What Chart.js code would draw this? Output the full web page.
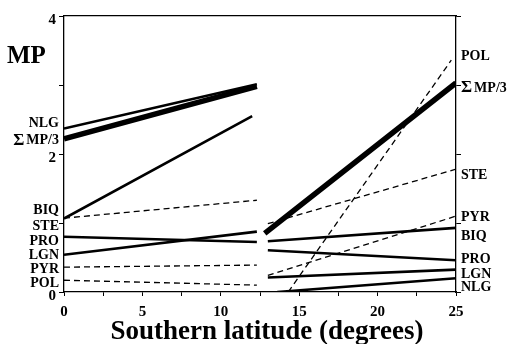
<!DOCTYPE html>
<html>
<head>
<meta charset="utf-8">
<script src="https://cdn.jsdelivr.net/npm/chart.js@4/dist/chart.umd.min.js"></script>
<style>
  html, body { margin: 0; padding: 0; background: #fff; }
  #wrap { width: 513px; height: 344px; }
</style>
</head>
<body>
<div id="wrap"><canvas id="chart" width="513" height="344"></canvas></div>
<script>
// series, in the order of the left-hand labels
const seriesNames = [`NLG`, `ΣMP/3`, `BIQ`, `STE`, `PRO`, `LGN`, `PYR`, `POL`];

// left block (0 .. ~12 degrees)
const leftStartX = [0, 0, 0, 0, 0, 0, 0, 0];
const leftStartY = [2.37, 2.22, 1.065, 1.07, 0.80, 0.54, 0.36, 0.17];
const leftEndX = [12.3, 12.3, 12.0, 12.3, 12.3, 12.3, 12.3, 12.3];
const leftEndY = [3.01, 2.98, 2.55, 1.33, 0.725, 0.875, 0.39, 0.10];

// right block (~13 .. 25 degrees)
const rightStartX = [13.6, 12.8, 13.0, 13.0, 13.0, 13.0, 13.0, 14.3];
const rightStartY = [0.0, 0.85, 0.735, 0.99, 0.605, 0.21, 0.24, 0.0];
const rightEndX = [25, 25, 25, 25, 25, 25, 25, 24.7];
const rightEndY = [0.20, 3.03, 0.93, 1.78, 0.46, 0.325, 1.10, 3.36];

// side labels
const leftLabels = [`NLG`, `ΣMP/3`, `BIQ`, `STE`, `PRO`, `LGN`, `PYR`, `POL`];
const leftLabelY = [2.44, 2.20, 1.185, 0.953, 0.74, 0.528, 0.33, 0.13];
const rightLabels = [`POL`, `ΣMP/3`, `STE`, `PYR`, `BIQ`, `PRO`, `LGN`, `NLG`];
const rightLabelY = [3.41, 2.955, 1.69, 1.08, 0.80, 0.47, 0.257, 0.073];

const xTickLabels = [0, 5, 10, 15, 20, 25];
const yTickLabels = [0, 2, 4];
const xTitle = `Southern latitude (degrees)`;
const yTitle = `MP`;

// styles
const lineWidths = [2.6, 5.5, 2.6, 1.3, 2.6, 2.6, 1.3, 1.3];
const lineDashes = [[], [], [], [6, 4], [], [], [6, 4], [6, 4]];

const serif = `"Liberation Serif", "DejaVu Serif", serif`;

const datasets = seriesNames.map((name, i) => ({
    label: name,
    data: [
        {x: leftStartX[i], y: leftStartY[i]},
        {x: leftEndX[i], y: leftEndY[i]},
        {x: 12.6, y: null},
        {x: rightStartX[i], y: rightStartY[i]},
        {x: rightEndX[i], y: rightEndY[i]}
    ],
    borderColor: `#000`,
    borderWidth: lineWidths[i],
    borderDash: lineDashes[i],
    borderCapStyle: `butt`,
    pointRadius: 0,
    spanGaps: false,
    tension: 0
}));

function drawLabel(ctx, text, x, y, align) {
    const small = `bold 14px ${serif}`;
    const big = `bold 17px ${serif}`;
    let parts = [[text, small]];
    if (text.startsWith(`Σ`)) {
        parts = [[`Σ`, big], [text.slice(1), small]];
    }
    const gap = parts.length > 1 ? 2 : 0;
    let total = gap;
    parts.forEach(p => { ctx.font = p[1]; total += ctx.measureText(p[0]).width; });
    let cx = align === `right` ? x - total : x;
    ctx.textAlign = `left`;
    parts.forEach((p, k) => {
        ctx.font = p[1];
        ctx.fillText(p[0], cx, y);
        cx += ctx.measureText(p[0]).width + (k === 0 ? gap : 0);
    });
}

const sideLabels = {
    id: `sideLabels`,
    afterDraw(chart) {
        const ctx = chart.ctx;
        const yScale = chart.scales.y;
        const area = chart.chartArea;
        ctx.save();
        ctx.fillStyle = `#000`;
        ctx.textBaseline = `middle`;
        leftLabels.forEach((t, i) => drawLabel(ctx, t, area.left - 5, yScale.getPixelForValue(leftLabelY[i]), `right`));
        rightLabels.forEach((t, i) => drawLabel(ctx, t, area.right + 5, yScale.getPixelForValue(rightLabelY[i]), `left`));

        ctx.textBaseline = `alphabetic`;
        ctx.font = `bold 25px ${serif}`;
        ctx.textAlign = `left`;
        ctx.fillText(yTitle, 7, 63);

        ctx.font = `bold 27px ${serif}`;
        ctx.textAlign = `center`;
        ctx.fillText(xTitle, (area.left + area.right) / 2 + 7, 339);
        ctx.restore();
    }
};

const axisLine = {color: `#000`, width: 1.3};

new Chart(document.getElementById(`chart`), {
    type: `line`,
    data: {datasets: datasets},
    plugins: [sideLabels],
    options: {
        responsive: false,
        animation: false,
        layout: {padding: 0},
        plugins: {legend: {display: false}, tooltip: {enabled: false}},
        scales: {
            x: {
                type: `linear`,
                position: `bottom`,
                min: 0,
                max: 25,
                afterBuildTicks: scale => {
                    scale.ticks = [];
                    for (let v = 0; v <= 25; v += 2.5) scale.ticks.push({value: v});
                },
                afterFit: scale => { scale.height = 52; },
                ticks: {
                    autoSkip: false,
                    maxRotation: 0,
                    color: `#000`,
                    padding: 7,
                    font: {family: serif, weight: `bold`, size: 15},
                    callback: v => xTickLabels.includes(v) ? String(v) : ``
                },
                grid: {drawOnChartArea: false, tickLength: 4, color: `#000`, tickWidth: 1},
                border: axisLine
            },
            xTop: {
                type: `linear`,
                position: `top`,
                min: 0,
                max: 25,
                afterFit: scale => { scale.height = 16; },
                ticks: {display: false},
                grid: {drawOnChartArea: false, drawTicks: false},
                border: axisLine
            },
            y: {
                type: `linear`,
                position: `left`,
                min: 0,
                max: 4,
                afterFit: scale => { scale.width = 64; },
                ticks: {
                    stepSize: 1,
                    color: `#000`,
                    padding: 3,
                    labelOffset: 4,
                    font: {family: serif, weight: `bold`, size: 15},
                    callback: v => yTickLabels.includes(v) ? String(v) : ``
                },
                grid: {drawOnChartArea: false, tickLength: 5, color: `#000`, tickWidth: 1},
                border: axisLine
            },
            yRight: {
                type: `linear`,
                position: `right`,
                min: 0,
                max: 4,
                afterFit: scale => { scale.width = 57; },
                ticks: {stepSize: 1, display: false},
                grid: {drawOnChartArea: false, tickLength: 5, color: `#000`, tickWidth: 1},
                border: axisLine
            }
        }
    }
});
</script>
</body>
</html>
